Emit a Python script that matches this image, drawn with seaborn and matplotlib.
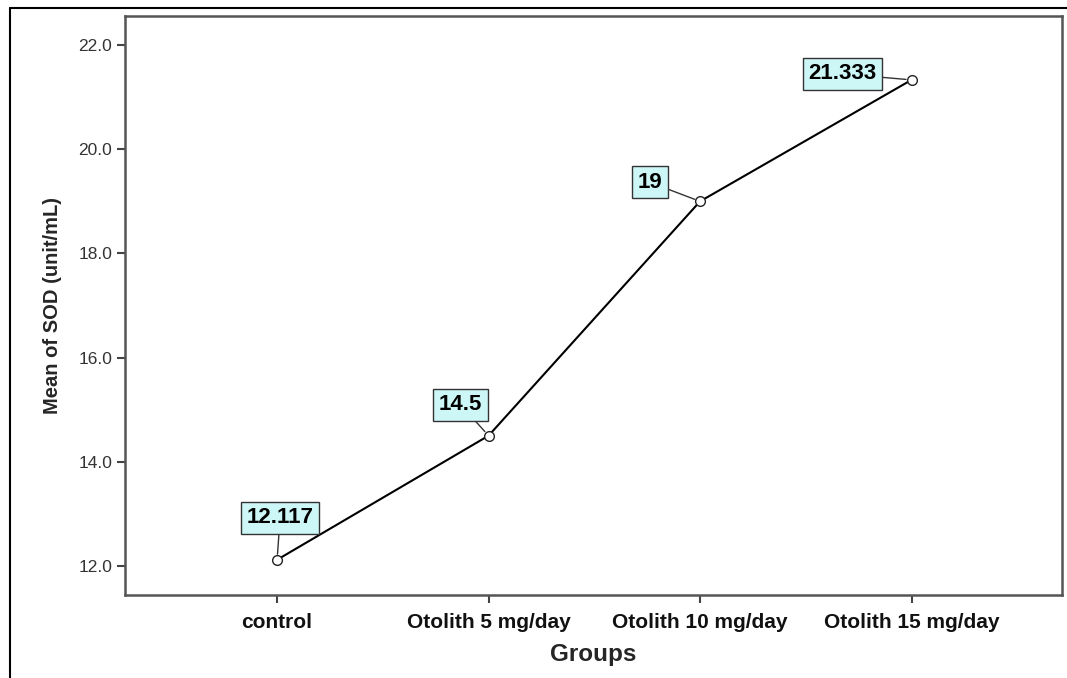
import matplotlib
matplotlib.use("Agg")
import matplotlib.pyplot as plt
import pandas as pd
import seaborn as sns
from matplotlib.lines import Line2D

# Data
groups = ["control", "Otolith 5 mg/day", "Otolith 10 mg/day", "Otolith 15 mg/day"]
sod_mean = [12.117, 14.5, 19.0, 21.333]
value_labels = ["12.117", "14.5", "19", "21.333"]
y_ticks = [12.0, 14.0, 16.0, 18.0, 20.0, 22.0]

df = pd.DataFrame({"Groups": groups, "SOD": sod_mean})

sns.set_style("white")
plt.rcParams["font.family"] = ["Liberation Sans", "DejaVu Sans"]

fig = plt.figure(figsize=(10.67, 6.78), dpi=100)
ax = fig.add_axes([0.117, 0.1224, 0.878, 0.854])

sns.lineplot(data=df, x="Groups", y="SOD", ax=ax, sort=False,
             color="black", linewidth=1.5, marker="o", markersize=7,
             markerfacecolor="white", markeredgecolor="#222222", markeredgewidth=1.0)

# callout boxes with the values (offsets in pixels)
offsets = [(3, 42), (-28, 31), (-50, 19), (-69, 6)]
for i, (val, lab) in enumerate(zip(sod_mean, value_labels)):
    ax.annotate(lab, xy=(i, val), xytext=offsets[i], textcoords="offset pixels",
                ha="center", va="center", fontsize=16, fontweight="bold", color="black",
                bbox=dict(boxstyle="square,pad=0.25", facecolor="#cdf6f6",
                          edgecolor="#333333", linewidth=1.0),
                arrowprops=dict(arrowstyle="-", color="#333333", lw=1.0,
                                shrinkA=0, shrinkB=4))

ax.set_xlim(-0.72, 3.71)
ax.set_ylim(11.44, 22.56)
ax.set_yticks(y_ticks)
ax.set_yticklabels([f"{t:.1f}" for t in y_ticks], fontsize=12.5, color="#333333")
ax.set_xticks(range(len(groups)))
ax.set_xticklabels(groups, fontsize=15, fontweight="bold", color="#111111")
ax.tick_params(axis="both", direction="out", length=6, width=1.5, color="#444444",
               bottom=True, left=True, pad=3)
ax.tick_params(axis="x", pad=7)

ax.set_xlabel("Groups", fontsize=17.5, fontweight="bold", labelpad=8)
ax.set_ylabel("Mean of SOD (unit/mL)", fontsize=14.5, fontweight="bold", labelpad=12)

for s in ax.spines.values():
    s.set_color("#555555")
    s.set_linewidth(1.8)

# outer frame lines (top and left)
fig.add_artist(Line2D([0.0094, 1.0], [0.988, 0.988], color="black", lw=1.5,
                      transform=fig.transFigure))
fig.add_artist(Line2D([0.0094, 0.0094], [0.0, 0.988], color="black", lw=1.5,
                      transform=fig.transFigure))

fig.savefig("out.png", dpi=100)
